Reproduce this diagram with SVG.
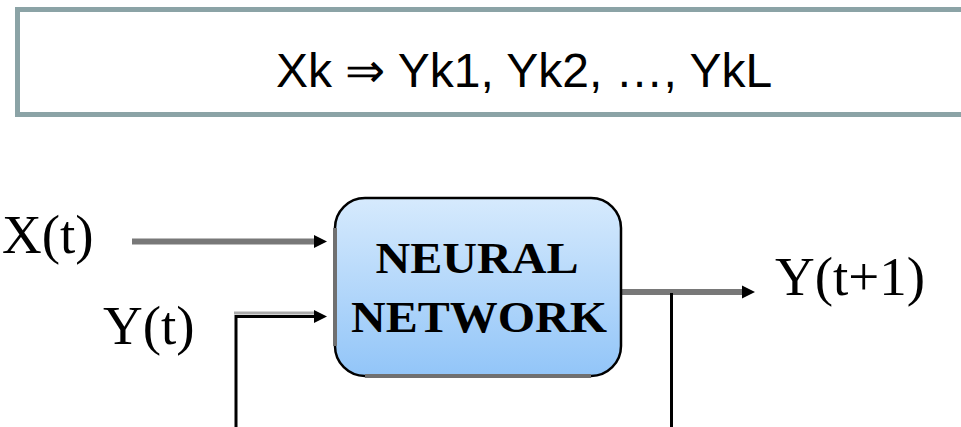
<svg xmlns="http://www.w3.org/2000/svg" width="961" height="427" viewBox="0 0 961 427">
  <defs>
    <linearGradient id="nnFill" x1="0" y1="0" x2="0" y2="1">
      <stop offset="0" stop-color="#d6eafd"/>
      <stop offset="1" stop-color="#92c5f8"/>
    </linearGradient>
    <marker id="arrow" markerUnits="userSpaceOnUse" markerWidth="14" markerHeight="14" refX="0" refY="6.5" orient="auto" viewBox="0 0 14 13">
      <path d="M0,0 L13,6.5 L0,13 Z" fill="#000"/>
    </marker>
    <style>
      .lbl { font-family: "Liberation Serif", "Times New Roman", serif; font-size: 55px; fill: #000; }
      .nn { font-family: "Liberation Serif", "Times New Roman", serif; font-size: 44px; font-weight: bold; fill: #000; text-anchor: middle; }
      .gray { stroke: #787878; stroke-width: 6; fill: none; }
      .blk { stroke: #000; stroke-width: 3; fill: none; }
    </style>
  </defs>

  <g id="formula">
    <rect x="17.5" y="9.5" width="970" height="105" fill="#fff" stroke="#8ba3a6" stroke-width="5"/>
    <text x="524" y="87" font-family="Liberation Sans, Arial, sans-serif" font-size="48" text-anchor="middle" fill="#000">Xk ⇒ Yk1, Yk2, …, YkL</text>
  </g>

  <g id="connectors">
    <line class="gray" x1="132" y1="241.5" x2="314" y2="241.5" marker-end="url(#arrow)"/>
    <line x1="234" y1="313" x2="316" y2="313" stroke="#aaaaaa" stroke-width="3"/>
    <polyline class="blk" points="236,427 236,316.5 314,316.5" marker-end="url(#arrow)"/>
    <line class="gray" x1="621" y1="292" x2="742" y2="292" marker-end="url(#arrow)"/>
    <line class="blk" x1="671.5" y1="293" x2="671.5" y2="427"/>
  </g>

  <g id="neural-network">
    <rect x="335" y="198" width="286" height="178" rx="30" ry="30" fill="url(#nnFill)"/>
    <line x1="335" y1="228" x2="335" y2="346" stroke="#707070" stroke-width="4"/>
    <line x1="365" y1="376" x2="591" y2="376" stroke="#707070" stroke-width="4"/>
    <path d="M335,228 A30,30 0 0 1 365,198 H591 A30,30 0 0 1 621,228 V346 A30,30 0 0 1 591,376 M365,376 A30,30 0 0 1 335,346" fill="none" stroke="#000" stroke-width="2.5"/>
    <text class="nn" x="477" y="273" textLength="203" lengthAdjust="spacingAndGlyphs">NEURAL</text>
    <text class="nn" x="479" y="332" textLength="256" lengthAdjust="spacingAndGlyphs">NETWORK</text>
  </g>

  <g id="label-xt">
    <text class="lbl" x="2" y="253">X(t)</text>
  </g>
  <g id="label-yt">
    <text class="lbl" x="103" y="344">Y(t)</text>
  </g>
  <g id="label-yt1">
    <text class="lbl" x="775" y="295">Y(t+1)</text>
  </g>
</svg>
